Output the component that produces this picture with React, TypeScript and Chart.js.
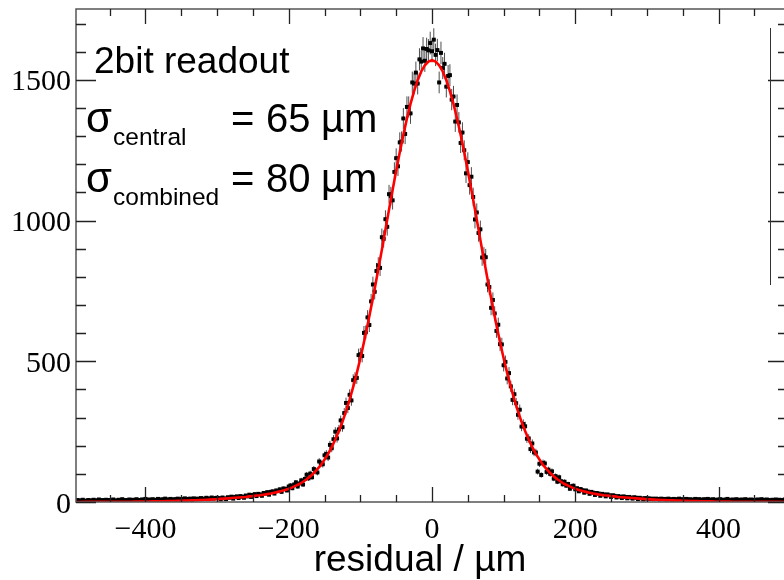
import { useEffect, useRef } from "react";
import { Chart, registerables } from "chart.js";
Chart.register(...registerables);

// ---- axis ranges ----
const X_MIN = -497;
const X_MAX = 497;
const Y_MIN = 0;
const Y_MAX = 1752;

// ---- histogram (bin centres start at -497.5, width 2.5 µm) ----
const BIN_START = -497.5;
const BIN_WIDTH = 2.5;
const counts = [
  // -497.5 .. -300
  5, 7, 4, 6, 8, 5, 3, 7, 6, 4,
  8, 5, 6, 9, 4, 7, 5, 8, 6, 7,
  5, 9, 6, 4, 8, 7, 10, 5, 7, 6,
  9, 6, 8, 5, 10, 7, 6, 9, 8, 11,
  7, 9, 6, 10, 8, 7, 11, 9, 8, 10,
  12, 8, 9, 11, 7, 10, 9, 12, 8, 11,
  10, 13, 9, 11, 12, 8, 13, 10, 12, 11,
  14, 11, 12, 15, 10, 13, 16, 12, 14, 15,
  // -297.5 .. -200
  14, 9, 16, 13, 10, 17, 15, 19, 12, 18,
  20, 14, 21, 19, 15, 23, 20, 26, 18, 25,
  28, 21, 29, 27, 22, 32, 30, 35, 26, 36,
  38, 30, 41, 39, 45, 36, 48, 47, 41, 55,
  // -197.5 .. -100
  59, 49, 62, 70, 55, 66, 77, 62, 82, 97,
  84, 101, 88, 117, 112, 105, 144, 138, 134, 166,
  171, 158, 203, 191, 223, 250, 226, 258, 290, 266,
  316, 352, 334, 381, 361, 433, 440, 441, 522, 525,
  // -97.5 .. 0
  519, 601, 603, 656, 629, 713, 773, 747, 821, 841,
  832, 941, 935, 1005, 978, 1094, 1087, 1072, 1173, 1222,
  1193, 1278, 1281, 1363, 1308, 1404, 1404, 1381, 1491, 1487,
  1526, 1487, 1573, 1565, 1612, 1568, 1610, 1605, 1631, 1602,
  // 2.5 .. 100
  1643, 1589, 1606, 1491, 1596, 1542, 1557, 1476, 1514, 1517,
  1430, 1441, 1352, 1411, 1349, 1276, 1313, 1250, 1168, 1208,
  1126, 1156, 1084, 1004, 1029, 956, 969, 869, 876, 870,
  773, 764, 690, 718, 670, 608, 630, 561, 560, 486,
  // 102.5 .. 200
  498, 439, 458, 411, 363, 383, 351, 310, 328, 268,
  277, 269, 225, 226, 188, 208, 176, 176, 108, 136,
  96, 139, 137, 107, 115, 100, 109, 83, 92, 72,
  88, 74, 63, 72, 58, 64, 47, 56, 58, 45,
  // 202.5 .. 300
  49, 38, 46, 42, 33, 41, 37, 29, 36, 33,
  25, 32, 30, 22, 29, 27, 20, 27, 24, 18,
  24, 22, 16, 21, 19, 14, 20, 18, 13, 18,
  16, 12, 17, 15, 10, 15, 13, 9, 14, 12,
  // 302.5 .. 497.5
  13, 11, 12, 10, 12, 11, 9, 12, 10, 11,
  9, 12, 10, 8, 11, 9, 10, 12, 8, 10,
  9, 11, 8, 10, 7, 9, 11, 8, 10, 9,
  7, 10, 8, 11, 9, 7, 10, 8, 6, 9,
  10, 8, 7, 9, 11, 8, 6, 9, 7, 10,
  8, 6, 9, 7, 10, 8, 5, 9, 7, 8,
  6, 9, 7, 10, 8, 6, 9, 7, 5, 8,
  7, 9, 6, 8, 5, 7, 9, 6, 8,
];

// ---- fit curve (sampled every 5 µm from -500) ----
const FIT_START = -500;
const FIT_STEP = 5;
const fitValues = [
  0.2, 0.22, 0.25, 0.28, 0.3, 0.35, 0.4, 0.45, 0.5, 0.55,
  0.6, 0.65, 0.7, 0.8, 0.9, 1.0, 1.1, 1.2, 1.4, 1.5,
  1.7, 1.9, 2.1, 2.3, 2.5, 2.8, 3.0, 3.3, 3.7, 4.0,
  4.4, 4.8, 5.2, 5.7, 6.2, 6.7, 7.3, 7.9, 8.6, 9.3,
  10, 11, 12, 13, 14, 15, 16, 17, 18, 20,
  21, 23, 24, 26, 28, 30, 33, 36, 39, 43,
  47, 52, 58, 64, 72, 81, 91, 103, 117, 132,
  151, 171, 195, 222, 252, 285, 323, 364, 409, 458,
  511, 568, 628, 692, 758, 827, 896, 968, 1039, 1109,
  1177, 1243, 1305, 1363, 1415, 1460, 1499, 1530, 1552, 1565,
  1570,
  1565, 1552, 1530, 1499, 1460, 1415, 1363, 1305, 1243, 1177,
  1109, 1039, 968, 896, 827, 758, 692, 628, 568, 511,
  458, 409, 364, 323, 285, 252, 222, 195, 171, 151,
  132, 117, 103, 91, 81, 72, 64, 58, 52, 47,
  43, 39, 36, 33, 30, 28, 26, 24, 23, 21,
  20, 18, 17, 16, 15, 14, 13, 12, 11, 10,
  9.3, 8.6, 7.9, 7.3, 6.7, 6.2, 5.7, 5.2, 4.8, 4.4,
  4.0, 3.7, 3.3, 3.0, 2.8, 2.5, 2.3, 2.1, 1.9, 1.7,
  1.5, 1.4, 1.2, 1.1, 1.0, 0.9, 0.8, 0.7, 0.65, 0.6,
  0.55, 0.5, 0.45, 0.4, 0.35, 0.3, 0.28, 0.25, 0.22, 0.2,
];

// ---- ticks ----
const xMajorTicks = [-400, -200, 0, 200, 400];
const xTickLabels = ["\u2212400", "\u2212200", "0", "200", "400"];
const xMinorTicks = [-450, -350, -300, -250, -150, -100, -50, 50, 100, 150, 250, 300, 350, 450];
const yMajorTicks = [0, 500, 1000, 1500];
const yTickLabels = ["0", "500", "1000", "1500"];
const yMinorTicks = [100, 200, 300, 400, 600, 700, 800, 900, 1100, 1200, 1300, 1400, 1600, 1700];

const xTitle = "residual / \u00b5m";
const labelTitle = "2bit readout";
const sigmaLines = [
  { sub: "central", value: "65", unit: "\u00b5m" },
  { sub: "combined", value: "80", unit: "\u00b5m" },
];

const SANS = '"Liberation Sans", Arial, sans-serif';
const SERIF = '"Liberation Serif", "Times New Roman", serif';

const rootStyle = {
  id: "rootStyle",
  beforeDatasetsDraw(chart: any) {
    const { ctx, chartArea } = chart;
    const xs = chart.scales.x;
    const ys = chart.scales.y;
    ctx.save();
    ctx.beginPath();
    ctx.rect(chartArea.left, chartArea.top, chartArea.right - chartArea.left, chartArea.bottom - chartArea.top);
    ctx.clip();
    ctx.strokeStyle = "rgba(0,0,0,0.7)";
    ctx.lineWidth = 1;
    ctx.beginPath();
    counts.forEach((v, i) => {
      const cx = BIN_START + i * BIN_WIDTH;
      const err = Math.sqrt(v);
      const px = xs.getPixelForValue(cx);
      const py = ys.getPixelForValue(v);
      ctx.moveTo(px, ys.getPixelForValue(v - err));
      ctx.lineTo(px, ys.getPixelForValue(v + err));
      ctx.moveTo(xs.getPixelForValue(cx - BIN_WIDTH / 2) - 1, py);
      ctx.lineTo(xs.getPixelForValue(cx + BIN_WIDTH / 2) + 1, py);
    });
    ctx.stroke();
    ctx.restore();
  },
  afterDatasetsDraw(chart: any) {
    const { ctx, chartArea } = chart;
    const xs = chart.scales.x;
    const ys = chart.scales.y;
    const L = chartArea.left, R = chartArea.right, T = chartArea.top, B = chartArea.bottom;
    ctx.save();
    // frame
    ctx.strokeStyle = "#555";
    ctx.lineWidth = 1.5;
    ctx.beginPath();
    ctx.moveTo(L, T); ctx.lineTo(R, T); ctx.lineTo(R, B); ctx.lineTo(L, B); ctx.closePath();
    ctx.stroke();

    ctx.strokeStyle = "#222";
    ctx.lineWidth = 1.3;
    ctx.beginPath();
    xMajorTicks.forEach((t) => {
      const p = Math.round(xs.getPixelForValue(t)) + 0.5;
      ctx.moveTo(p, B); ctx.lineTo(p, B - 15);
      ctx.moveTo(p, T); ctx.lineTo(p, T + 15);
    });
    xMinorTicks.forEach((t) => {
      const p = Math.round(xs.getPixelForValue(t)) + 0.5;
      ctx.moveTo(p, B); ctx.lineTo(p, B - 7);
      ctx.moveTo(p, T); ctx.lineTo(p, T + 7);
    });
    yMajorTicks.forEach((t) => {
      const p = Math.round(ys.getPixelForValue(t)) + 0.5;
      ctx.moveTo(L, p); ctx.lineTo(L + 20, p);
      ctx.moveTo(R, p); ctx.lineTo(R - 20, p);
    });
    yMinorTicks.forEach((t) => {
      const p = Math.round(ys.getPixelForValue(t)) + 0.5;
      ctx.moveTo(L, p); ctx.lineTo(L + 10, p);
      ctx.moveTo(R, p); ctx.lineTo(R - 10, p);
    });
    ctx.stroke();

    // box edge at right
    ctx.strokeStyle = "#333";
    ctx.lineWidth = 1;
    ctx.beginPath();
    ctx.moveTo(770.5, 28);
    ctx.lineTo(770.5, 285);
    ctx.stroke();

    // tick labels
    ctx.fillStyle = "#000";
    ctx.font = `30px ${SERIF}`;
    ctx.textAlign = "center";
    ctx.textBaseline = "alphabetic";
    xMajorTicks.forEach((t, i) => {
      ctx.fillText(xTickLabels[i], xs.getPixelForValue(t), B + 36);
    });
    ctx.textAlign = "right";
    yMajorTicks.forEach((t, i) => {
      ctx.fillText(yTickLabels[i], L - 5, ys.getPixelForValue(t) + 10.5);
    });

    // axis title
    ctx.font = `37px ${SANS}`;
    ctx.textAlign = "center";
    ctx.fillText(xTitle, 420, 571);

    // annotation text
    ctx.textAlign = "left";
    ctx.font = `37px ${SANS}`;
    ctx.fillText(labelTitle, 94, 73);
    sigmaLines.forEach((s, i) => {
      const base = 132 + i * 60;
      ctx.font = `42px ${SANS}`;
      ctx.fillText("\u03c3", 86, base);
      ctx.font = `24.5px ${SANS}`;
      ctx.fillText(s.sub, 113, base + 13);
      ctx.font = `40px ${SANS}`;
      ctx.fillText("=", 231, base);
      ctx.fillText(s.value, 266, base);
      ctx.fillText(s.unit, 321, base);
    });
    ctx.restore();
  },
};

export default function App() {
  const ref = useRef<HTMLCanvasElement>(null);
  useEffect(() => {
    if (!ref.current) return;
    const dataPts = counts.map((v, i) => ({ x: BIN_START + i * BIN_WIDTH, y: v }));
    const fitPts = fitValues.map((v, i) => ({ x: FIT_START + i * FIT_STEP, y: v }));
    const chart = new Chart(ref.current, {
      type: "scatter",
      data: {
        datasets: [
          {
            label: "fit",
            data: fitPts,
            showLine: true,
            borderColor: "#ff0000",
            borderWidth: 2.6,
            pointRadius: 0,
            tension: 0,
            order: 0,
          } as any,
          {
            label: "data",
            data: dataPts,
            pointStyle: "rect",
            pointRadius: 2.8,
            backgroundColor: "#000",
            borderWidth: 0,
            order: 1,
          } as any,
        ],
      },
      options: {
        animation: false,
        responsive: false,
        events: [],
        layout: { padding: { left: 76, right: 12, top: 9, bottom: 78 } },
        plugins: { legend: { display: false }, tooltip: { enabled: false } },
        scales: {
          x: { type: "linear", min: X_MIN, max: X_MAX, display: false },
          y: { type: "linear", min: Y_MIN, max: Y_MAX, display: false },
        },
      },
      plugins: [rootStyle],
    });
    return () => chart.destroy();
  }, []);
  return (
    <div
      style={{
        position: "fixed",
        left: 0,
        top: 0,
        width: 784,
        height: 580,
        overflow: "hidden",
        background: "#fff",
      }}
    >
      <canvas ref={ref} width={800} height={580} style={{ display: "block", width: 800, height: 580 }} />
    </div>
  );
}
